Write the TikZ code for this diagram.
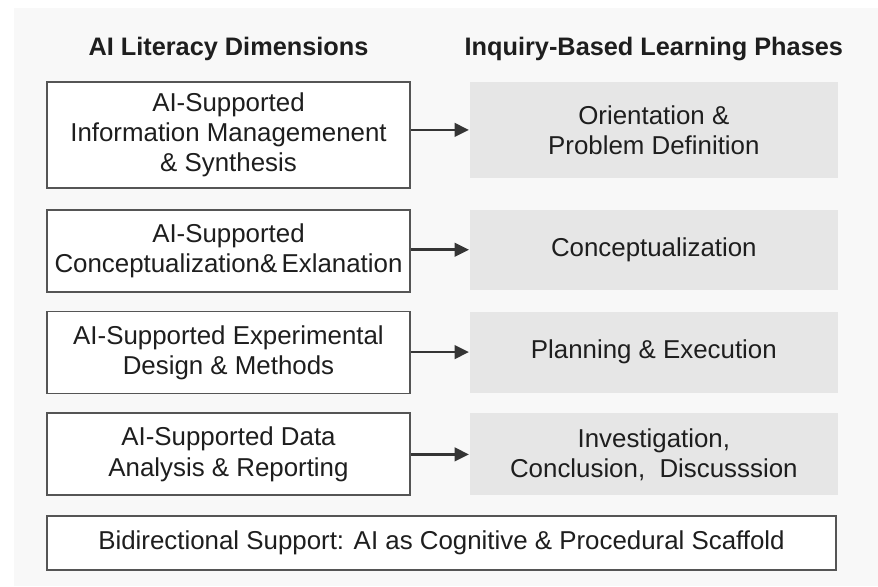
\documentclass[tikz,border=0pt]{standalone}
\usepackage{fontspec}
\setmainfont{Liberation Sans}
\usetikzlibrary{positioning,arrows.meta}
\definecolor{BoxLine}{RGB}{85,85,85}
\definecolor{PhaseFill}{RGB}{230,230,230}
\definecolor{PanelFill}{RGB}{248,248,248}
\definecolor{InkDark}{RGB}{30,30,30}

\begin{document}
\begin{tikzpicture}[
        dimension/.style={
            draw=BoxLine,
            fill=white,
            text=InkDark,
            line width=1.3pt,
            minimum width=9.075cm,
            minimum height=2.05cm,
            inner sep=0pt,
            align=center,
            font=\fontsize{18.4}{21.5}\selectfont
        },
        phase/.style={
            dimension,
            draw=none,
            fill=PhaseFill,
            minimum width=9.2cm
        },
        header/.style={
            inner sep=0pt,
            text=InkDark,
            font=\fontsize{18}{21}\selectfont\bfseries
        },
        link/.style={
            -{Triangle[length=3.6mm,width=3.4mm]},
            line width=1.9pt,
            draw=InkDark!90
        }
    ]
        % page and light panel
        \fill[white] (0,0) rectangle (21.95,-14.65);
        \fill[PanelFill] (0.35,-0.2) rectangle (21.95,-14.65);

        \node[dimension, minimum height=2.65cm, anchor=north] (dim1) at (5.7125,-2.025)
            {AI-Supported\\Information Managemenent\\\& Synthesis};
        \node[dimension, below=0.5cm of dim1] (dim2)
            {AI-Supported\\Conceptualization\&\,Exlanation};
        \node[dimension, below=0.45cm of dim2] (dim3)
            {AI-Supported Experimental\\Design \& Methods};
        \node[dimension, below=0.45cm of dim3] (dim4)
            {AI-Supported Data\\Analysis \& Reporting};

        \node[phase, minimum height=2.4cm, right=1.45cm of dim1.north east, anchor=north west] (phase1)
            {Orientation \&\\Problem Definition};
        \node[phase, minimum height=2.0cm, right=1.45cm of dim2.north east, anchor=north west] (phase2)
            {Conceptualization};
        \node[phase, minimum height=2.025cm, right=1.45cm of dim3.north east, anchor=north west] (phase3)
            {Planning \& Execution};
        \node[phase, right=1.45cm of dim4.north east, anchor=north west] (phase4)
            {Investigation,\\Conclusion,\; Discusssion};

        \node[header, above=0.5cm of dim1] (dimhead) {AI Literacy Dimensions};
        \node[header, above=0.5cm of phase1] (phasehead) {Inquiry-Based Learning Phases};

        \node[dimension, minimum width=19.725cm, minimum height=1.35cm,
              below=0.475cm of dim4.south west, anchor=north west] (scaffold)
            {Bidirectional Support: AI as Cognitive \& Procedural Scaffold};

        \foreach \i in {1,...,4}
            \draw[link] (dim\i.east |- phase\i.west) -- (phase\i.west);
    \end{tikzpicture}
\end{document}
